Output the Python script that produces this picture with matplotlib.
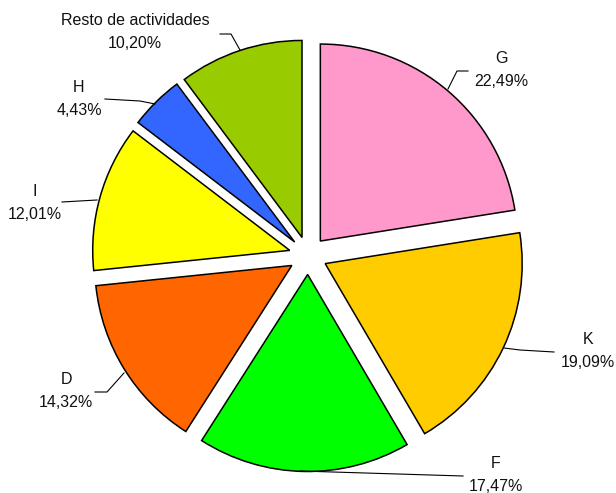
import matplotlib.pyplot as plt

# data
labels = ["G", "K", "F", "D", "I", "H", "Resto de actividades"]
shares = [22.49, 19.09, 17.47, 14.32, 12.01, 4.43, 10.20]
pct_text = ["22,49%", "19,09%", "17,47%", "14,32%", "12,01%", "4,43%", "10,20%"]
colors = ["#FF99CC", "#FFCC00", "#00FF00", "#FF6600", "#FFFF00", "#3366FF", "#99CC00"]

W, H = 616, 493
# label centres (image px) and leader lines (image px)
label_pos = [(501, 70), (588, 351), (496, 475), (66, 391), (35, 203), (79, 99), (135, 32)]
leaders = [
    [(448, 89), (457, 71), (468, 71)],
    [(504, 348), (520, 350), (554, 352)],
    [(300, 471), (463, 476)],
    [(124, 373), (107, 392), (95, 392)],
    [(97, 200), (62, 202)],
    [(155, 104), (140, 101), (105, 99)],
    [(240, 50), (231, 34), (220, 34)],
]

plt.rcParams['font.family'] = ['Liberation Sans', 'DejaVu Sans']

fig = plt.figure(figsize=(W/100, H/100), dpi=100)
ax = fig.add_axes([0, 0, 1, 1])

# explode is in data units here (pixels)
ax.pie(shares, colors=colors, startangle=90, counterclock=False,
       radius=197, center=(308, 237.5), explode=[19]*len(shares),
       wedgeprops=dict(edgecolor="black", linewidth=1.1), frame=False)
ax.set_xlim(0, W)
ax.set_ylim(0, H)
ax.set_aspect('equal')
ax.axis('off')

for lab, pct, (x, y), pts in zip(labels, pct_text, label_pos, leaders):
    ax.text(x, H - y, lab + "\n" + pct, ha="center", va="center",
            fontsize=11.5, linespacing=1.65, color="#111111")
    ax.plot([p[0] for p in pts], [H - p[1] for p in pts], color="black", lw=0.8)

fig.savefig("out.png", dpi=100)
